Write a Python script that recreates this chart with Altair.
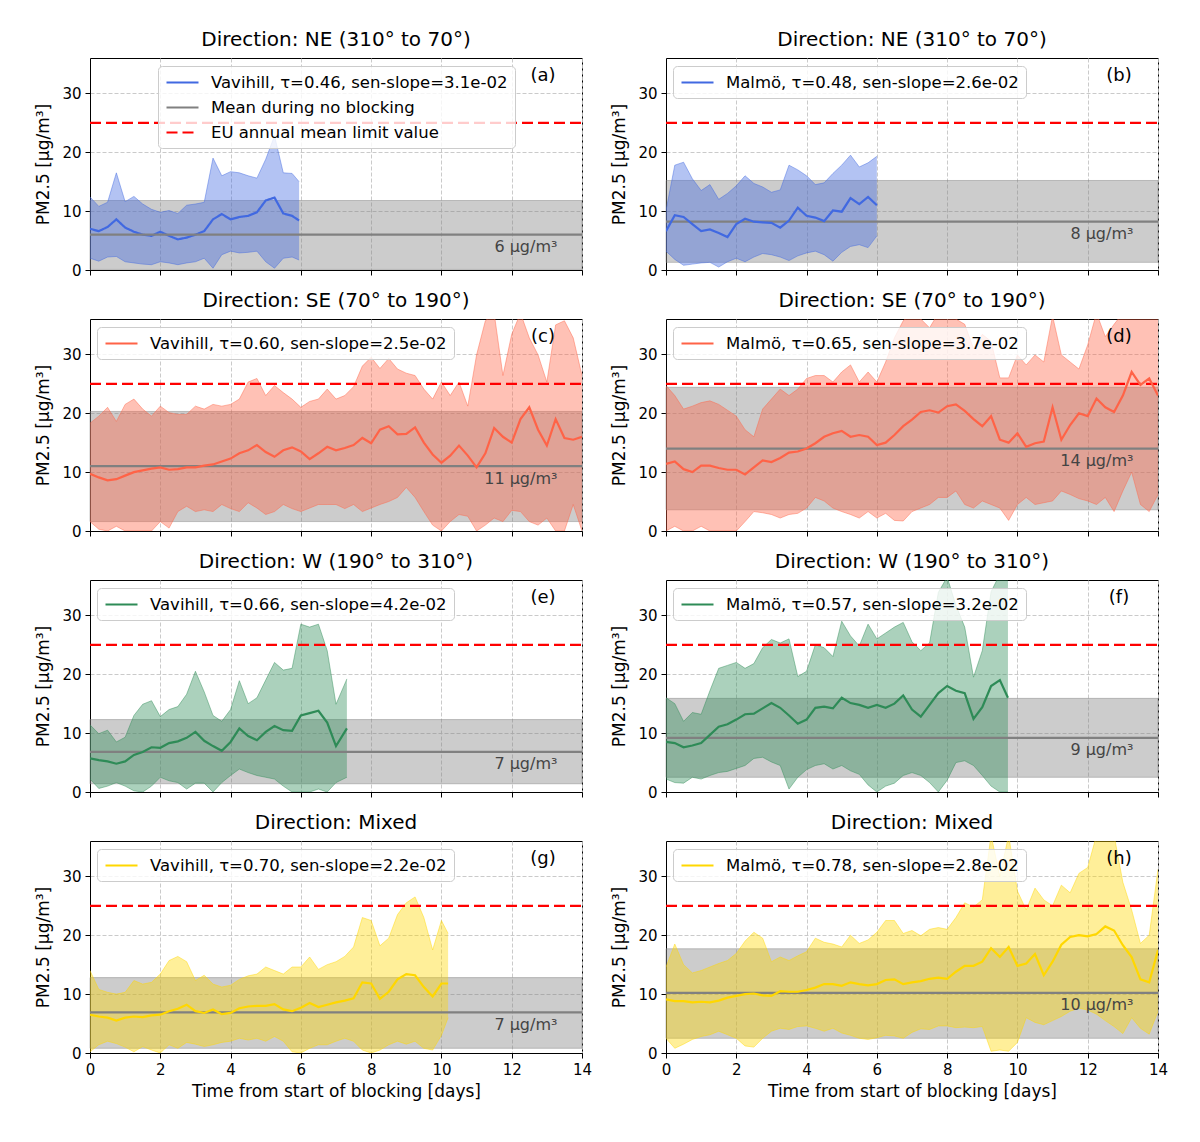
import altair as alt
import pandas as pd

# ---------------- data ----------------
STEP = 0.25  # days between sampled points

TITLES = ["Direction: NE (310° to 70°)", "Direction: NE (310° to 70°)",
          "Direction: SE (70° to 190°)", "Direction: SE (70° to 190°)",
          "Direction: W (190° to 310°)", "Direction: W (190° to 310°)",
          "Direction: Mixed", "Direction: Mixed"]
LETTERS = ["(a)", "(b)", "(c)", "(d)", "(e)", "(f)", "(g)", "(h)"]
COLORS = ["#4169E1", "#4169E1", "#FF6347", "#FF6347",
          "#2E8B57", "#2E8B57", "#FFD700", "#FFD700"]
LABELS = ["Vavihill, τ=0.46, sen-slope=3.1e-02", "Malmö, τ=0.48, sen-slope=2.6e-02",
          "Vavihill, τ=0.60, sen-slope=2.5e-02", "Malmö, τ=0.65, sen-slope=3.7e-02",
          "Vavihill, τ=0.66, sen-slope=4.2e-02", "Malmö, τ=0.57, sen-slope=3.2e-02",
          "Vavihill, τ=0.70, sen-slope=2.2e-02", "Malmö, τ=0.78, sen-slope=2.8e-02"]
END_DAY = [5.95, 6.0, 14.0, 14.0, 7.31, 9.73, 10.19, 14.0]

# no-blocking reference: mean, mean-std, mean+std
NB_MEAN = [6.0, 8.2, 11.0, 14.0, 6.8, 9.2, 6.9, 10.2]
NB_LO = [0.1, 1.3, 1.6, 3.6, 1.4, 2.5, 0.8, 2.5]
NB_HI = [11.8, 15.2, 20.3, 24.4, 12.3, 15.9, 12.8, 17.7]
NB_TEXT = ["6 µg/m³", "8 µg/m³", "11 µg/m³", "14 µg/m³",
           "7 µg/m³", "9 µg/m³", "7 µg/m³", "10 µg/m³"]
EU_LIMIT = 25

A_MEAN = [7.0, 6.6, 7.3, 8.6, 7.2, 6.5, 6.0, 5.8, 6.5, 5.8, 5.2, 5.5, 6.0, 6.6, 8.6, 9.5, 8.6, 9.0, 9.2, 9.8, 11.8, 12.3, 9.6, 9.2, 8.4]
A_UP = [12.4, 10.8, 11.5, 16.5, 11.6, 12.5, 11.2, 10.3, 9.8, 10.1, 9.6, 11.0, 11.2, 11.5, 19.0, 16.0, 16.7, 16.5, 16.0, 15.6, 18.8, 22.8, 16.5, 16.4, 15.0]
A_LO = [2.0, 1.5, 2.2, 2.3, 1.4, 1.2, 1.0, 0.9, 1.4, 1.2, 0.9, 1.2, 1.4, 2.0, 0.3, 2.6, 3.2, 2.9, 3.0, 3.2, 1.4, 0.3, 2.0, 2.2, 1.7]

B_MEAN = [6.6, 9.3, 9.0, 7.8, 6.6, 6.9, 6.3, 5.6, 7.8, 8.7, 8.2, 8.1, 8.0, 7.2, 8.4, 10.6, 9.2, 8.9, 8.3, 10.1, 9.9, 12.2, 11.2, 12.4, 11.0]
B_UP = [10.1, 17.8, 18.3, 15.5, 13.5, 14.5, 12.0, 13.0, 14.3, 16.0, 14.7, 14.1, 13.2, 13.6, 17.8, 17.0, 16.0, 14.5, 14.8, 16.4, 17.8, 19.5, 17.5, 18.2, 19.3]
B_LO = [3.2, 1.8, 0.8, 1.0, 1.2, 1.3, 0.5, 1.4, 2.0, 1.4, 2.2, 2.8, 2.6, 2.2, 1.6, 2.4, 2.9, 3.2, 2.6, 1.5, 3.0, 4.0, 4.3, 3.8, 5.8]

C_MEAN = [9.7, 9.1, 8.6, 8.8, 9.4, 10.0, 10.3, 10.6, 10.8, 10.4, 10.5, 10.8, 10.8, 11.1, 11.3, 11.8, 12.3, 13.2, 13.7, 14.6,
          13.4, 12.6, 13.7, 14.2, 13.5, 12.2, 13.2, 14.3, 13.7, 14.1, 14.6, 15.8, 14.9, 17.2, 17.8, 16.4, 16.5, 17.6, 15.0, 13.0,
          11.6, 12.8, 14.5, 12.8, 10.8, 13.2, 17.5, 16.0, 15.0, 19.0, 21.0, 17.2, 14.5, 19.0, 15.8, 15.5, 16.0]
C_UP = [18.3, 19.5, 21.0, 18.6, 21.5, 22.4, 20.7, 19.5, 21.2, 20.1, 19.8, 19.8, 21.2, 20.7, 21.5, 21.2, 21.5, 22.4, 25.3, 25.9,
        23.0, 24.7, 23.5, 22.4, 21.0, 22.0, 22.4, 24.1, 22.4, 23.0, 24.5, 28.0, 29.5, 27.6, 29.3, 27.5, 26.8, 26.4, 24.1, 22.4,
        25.3, 23.0, 25.3, 21.2, 29.9, 35.7, 37.0, 26.4, 33.4, 37.0, 32.8, 29.9, 25.3, 35.0, 35.7, 32.8, 26.4]
C_LO = [1.6, 0.3, 0.0, 0.8, 0.0, 0.0, 0.0, 0.0, 1.6, 0.5, 3.3, 4.2, 3.3, 3.6, 3.3, 4.5, 3.8, 3.3, 4.8, 3.9,
        2.8, 3.3, 4.5, 3.8, 3.3, 3.9, 4.5, 4.5, 4.5, 3.8, 4.5, 3.3, 3.9, 4.5, 5.0, 5.7, 7.4, 5.7, 3.3, 1.0,
        0.0, 1.6, 2.8, 2.5, 0.0, 1.0, 2.2, 1.6, 3.5, 3.3, 1.6, 1.0, 2.2, 0.0, 0.0, 4.5, 0.0]

D_MEAN = [11.4, 11.8, 10.5, 10.0, 11.1, 11.1, 10.7, 10.4, 10.4, 9.6, 10.8, 12.0, 11.7, 12.4, 13.3, 13.5, 14.0, 14.9, 16.0, 16.6,
          17.0, 16.0, 16.3, 16.0, 14.6, 15.0, 16.3, 17.8, 18.9, 20.2, 20.5, 20.1, 21.2, 21.5, 20.4, 19.0, 17.8, 19.5, 15.5, 15.0,
          16.6, 14.3, 14.9, 15.2, 21.0, 15.5, 18.0, 20.0, 19.5, 22.5, 21.0, 20.2, 23.0, 27.0, 24.8, 25.9, 23.0]
D_UP = [24.7, 23.0, 20.7, 21.2, 21.8, 22.1, 21.5, 20.5, 19.5, 17.2, 16.0, 20.7, 22.4, 24.1, 23.0, 24.1, 25.9, 26.4, 26.4, 25.3,
        27.0, 28.2, 25.3, 27.0, 25.3, 28.7, 32.8, 35.7, 37.0, 36.0, 34.5, 37.0, 37.0, 36.0, 35.1, 31.0, 33.4, 32.2, 26.0, 26.0,
        29.9, 28.2, 29.9, 28.7, 36.5, 29.9, 28.7, 27.5, 31.6, 37.0, 33.0, 35.1, 37.0, 37.0, 37.0, 37.0, 37.0]
D_LO = [0.0, 0.8, 0.0, 0.0, 0.8, 0.0, 0.0, 0.0, 0.0, 1.6, 3.3, 3.1, 2.8, 2.2, 2.8, 3.0, 3.9, 5.7, 5.1, 3.9,
        3.3, 2.8, 2.2, 3.3, 2.2, 3.0, 1.8, 1.7, 3.3, 3.9, 4.5, 5.7, 5.7, 6.8, 4.5, 3.9, 5.1, 4.5, 3.9, 1.8,
        4.5, 5.7, 4.5, 4.8, 5.1, 6.8, 6.2, 5.5, 5.1, 4.5, 5.7, 3.3, 6.8, 10.0, 4.5, 3.3, 6.2]

E_MEAN = [5.7, 5.4, 5.2, 4.8, 5.2, 6.3, 6.8, 7.6, 7.5, 8.3, 8.6, 9.2, 10.2, 8.7, 7.8, 7.0, 8.5, 10.8, 9.5, 8.8,
          10.2, 11.2, 10.5, 10.4, 13.0, 13.4, 13.8, 11.8, 7.8, 10.8]
E_UP = [11.4, 9.9, 10.5, 8.5, 9.3, 13.0, 14.9, 15.5, 12.8, 14.0, 14.5, 16.6, 20.5, 17.0, 13.0, 12.0, 14.0, 18.9, 15.0, 16.0,
        19.0, 22.0, 20.7, 21.0, 28.5, 28.0, 28.5, 24.0, 14.9, 19.2]
E_LO = [2.2, 0.6, 1.0, 1.6, 1.0, 0.2, 0.0, 1.0, 2.5, 1.9, 1.6, 0.5, 1.5, 1.5, 0.0, 1.6, 2.8, 3.9, 3.3, 2.8,
        2.5, 2.2, 1.0, 0.0, 0.0, 0.0, 0.5, 0.0, 1.6, 2.5]

F_MEAN = [8.5, 8.3, 7.6, 7.9, 8.3, 9.7, 11.1, 11.5, 12.3, 13.2, 13.3, 14.2, 15.1, 14.3, 13.0, 11.6, 12.3, 14.3, 14.5, 14.2,
          16.0, 15.1, 14.8, 14.3, 14.8, 14.3, 15.0, 16.4, 14.0, 12.8, 14.8, 16.8, 18.0, 17.2, 16.8, 12.4, 14.4, 18.0, 19.0, 16.0]
F_UP = [16.0, 15.0, 12.0, 13.5, 13.2, 17.2, 21.0, 21.5, 22.0, 21.0, 21.8, 24.5, 25.9, 25.3, 26.0, 19.6, 20.5, 25.0, 24.5, 23.0,
        29.0, 26.5, 24.8, 28.5, 26.0, 27.0, 28.0, 28.8, 25.5, 24.0, 25.3, 33.9, 36.5, 31.7, 28.0, 19.5, 24.0, 34.0, 37.0, 37.0]
F_LO = [2.2, 1.6, 1.5, 2.5, 2.2, 2.8, 3.3, 3.5, 4.0, 4.5, 5.7, 5.9, 5.1, 4.5, 0.5, 2.5, 3.8, 4.5, 4.8, 3.9,
        4.5, 3.6, 3.0, 1.2, 0.0, 1.0, 1.5, 2.8, 3.3, 2.8, 1.6, 0.0, 2.0, 5.0, 5.3, 4.5, 2.8, 1.0, 0.0, 0.0]

G_MEAN = [6.5, 6.2, 6.0, 5.5, 6.0, 6.2, 6.1, 6.4, 6.5, 7.1, 7.5, 8.2, 7.1, 6.8, 7.4, 6.6, 6.8, 7.6, 7.9, 8.0,
          8.0, 8.3, 7.4, 7.1, 7.7, 8.5, 7.8, 8.2, 8.6, 8.9, 9.3, 12.0, 11.8, 9.2, 10.4, 12.5, 13.4, 13.2, 11.2, 9.6,
          11.8, 11.8]
G_UP = [14.0, 10.8, 10.3, 10.0, 10.3, 12.3, 11.7, 12.0, 13.4, 15.7, 16.4, 15.5, 12.3, 13.2, 11.7, 11.2, 11.5, 12.5, 13.1, 13.4,
        14.6, 14.0, 13.4, 14.6, 14.6, 16.3, 14.2, 15.0, 15.5, 16.4, 18.0, 23.0, 22.5, 18.2, 19.5, 23.5, 25.5, 26.5, 23.0, 17.5,
        22.5, 20.3]
G_LO = [0.2, 1.4, 2.0, 1.6, 1.0, 0.2, 1.1, 0.5, 0.0, 1.4, 0.8, 1.8, 1.5, 1.1, 1.4, 1.8, 2.0, 2.5, 2.2, 2.5,
        2.0, 2.8, 2.0, 0.2, 0.0, 0.8, 1.4, 1.4, 2.0, 2.5, 2.0, 0.5, 0.0, 0.5, 1.4, 2.0, 1.5, 2.0, 0.8, 0.5,
        3.0, 6.0]

H_MEAN = [9.1, 8.8, 8.8, 8.6, 8.7, 8.6, 8.9, 9.4, 9.7, 10.0, 10.1, 9.8, 9.7, 10.5, 10.4, 10.4, 10.7, 11.1, 11.7, 11.7,
          11.4, 12.0, 11.7, 11.5, 11.7, 12.4, 12.5, 11.7, 12.0, 12.2, 12.6, 12.8, 12.6, 13.8, 14.8, 14.8, 15.5, 17.8, 16.3, 18.0,
          14.8, 15.2, 16.8, 13.2, 15.5, 18.4, 19.7, 20.0, 19.8, 20.2, 21.5, 20.8, 18.3, 16.3, 12.5, 12.0, 17.5]
H_UP = [14.6, 18.5, 15.0, 13.6, 14.0, 14.6, 15.2, 15.7, 16.9, 19.0, 20.5, 19.5, 15.5, 16.3, 15.7, 16.5, 17.2, 19.5, 18.8, 18.5,
        18.0, 20.0, 18.6, 19.2, 20.5, 22.5, 22.5, 20.3, 20.8, 19.9, 21.0, 21.3, 21.0, 23.0, 25.5, 24.8, 26.0, 37.0, 30.0, 37.0,
        27.5, 24.3, 28.0, 26.0, 25.0, 28.5, 27.2, 30.5, 31.5, 37.0, 37.0, 37.0, 29.0, 24.3, 18.6, 20.0, 31.2]
H_LO = [2.5, 0.8, 1.5, 2.3, 2.8, 3.1, 3.7, 3.1, 2.5, 1.2, 1.0, 2.5, 3.7, 4.2, 4.0, 4.5, 4.6, 4.2, 3.7, 4.2,
        3.4, 3.0, 2.5, 2.3, 2.6, 3.0, 2.9, 2.5, 3.5, 4.1, 4.0, 4.6, 4.6, 4.3, 4.4, 4.3, 4.5, 0.3, 0.5, 0.3,
        1.8, 6.0, 5.2, 4.8, 5.5, 6.2, 7.1, 7.6, 7.3, 6.6, 5.5, 4.5, 3.3, 6.0, 4.2, 3.2, 7.1]

SERIES = [(A_MEAN, A_LO, A_UP), (B_MEAN, B_LO, B_UP), (C_MEAN, C_LO, C_UP), (D_MEAN, D_LO, D_UP),
          (E_MEAN, E_LO, E_UP), (F_MEAN, F_LO, F_UP), (G_MEAN, G_LO, G_UP), (H_MEAN, H_LO, H_UP)]

X_TICKS = [0, 2, 4, 6, 8, 10, 12, 14]
Y_TICKS = [0, 10, 20, 30]
MEAN_LABEL = "Mean during no blocking"
EU_LABEL = "EU annual mean limit value"

FONT = "DejaVu Sans"
W, H = 492, 212

XSCALE = alt.Scale(domain=[0, 14], nice=False, zero=False)
YSCALE = alt.Scale(domain=[0, 36], nice=False, zero=False)


def make_panel(i):
    mean, lo, up = SERIES[i]
    n = len(mean)
    t = [STEP * k for k in range(n)]
    t[-1] = END_DAY[i]
    df = pd.DataFrame({"t": t, "m": mean, "lo": lo, "hi": up})
    color = COLORS[i]
    bottom = i >= 6

    if bottom:
        xaxis = alt.Axis(values=X_TICKS, title="Time from start of blocking [days]", format="d")
    else:
        xaxis = alt.Axis(values=X_TICKS, labels=False, title=None)
    yaxis = alt.Axis(values=Y_TICKS, title="PM2.5 [µg/m³]", format="d")

    def X(f):
        return alt.X(f + ":Q", scale=XSCALE, axis=xaxis)

    def Y(f):
        return alt.Y(f + ":Q", scale=YSCALE, axis=yaxis)

    band_df = pd.DataFrame({"x0": [0], "x1": [14], "b0": [NB_LO[i]], "b1": [NB_HI[i]]})
    band = alt.Chart(band_df).mark_rect(
        fill="#808080", fillOpacity=0.4, stroke="#808080", strokeOpacity=0.45, strokeWidth=1
    ).encode(x=X("x0"), x2=alt.X2("x1"), y=Y("b0"), y2=alt.Y2("b1"))

    area = alt.Chart(df).mark_area(color=color, fillOpacity=0.4, clip=True).encode(
        x=X("t"), y=Y("lo"), y2=alt.Y2("hi"))
    edge_lo = alt.Chart(df).mark_line(color=color, strokeWidth=1, opacity=0.45, clip=True).encode(
        x=X("t"), y=Y("lo"))
    edge_hi = alt.Chart(df).mark_line(color=color, strokeWidth=1, opacity=0.45, clip=True).encode(
        x=X("t"), y=Y("hi"))

    leg_x = 68 if i == 0 else 7
    legend = alt.Legend(orient="none", legendX=leg_x, legendY=8, title=None)

    rows = [{"t": a, "v": b, "lab": LABELS[i]} for a, b in zip(t, mean)]
    layers = [band, area, edge_lo, edge_hi]
    if i == 0:
        rows += [{"t": 0, "v": NB_MEAN[i], "lab": MEAN_LABEL}, {"t": 14, "v": NB_MEAN[i], "lab": MEAN_LABEL},
                 {"t": 0, "v": EU_LIMIT, "lab": EU_LABEL}, {"t": 14, "v": EU_LIMIT, "lab": EU_LABEL}]
        dom = [LABELS[i], MEAN_LABEL, EU_LABEL]
        rng = [color, "#808080", "#ff0000"]
        dashes = [[1, 0], [1, 0], [11, 5]]
        lines = alt.Chart(pd.DataFrame(rows)).mark_line(strokeWidth=2.2, clip=True).encode(
            x=X("t"), y=Y("v"),
            color=alt.Color("lab:N", scale=alt.Scale(domain=dom, range=rng), legend=legend),
            strokeDash=alt.StrokeDash("lab:N", scale=alt.Scale(domain=dom, range=dashes), legend=legend),
        )
        layers.append(lines)
    else:
        mean_df = pd.DataFrame({"t": [0, 14], "v": [NB_MEAN[i], NB_MEAN[i]]})
        eu_df = pd.DataFrame({"t": [0, 14], "v": [EU_LIMIT, EU_LIMIT]})
        mline = alt.Chart(mean_df).mark_line(color="#808080", strokeWidth=2.2).encode(x=X("t"), y=Y("v"))
        eline = alt.Chart(eu_df).mark_line(color="#ff0000", strokeWidth=2.2, strokeDash=[11, 5]).encode(
            x=X("t"), y=Y("v"))
        lines = alt.Chart(pd.DataFrame(rows)).mark_line(strokeWidth=2.2, clip=True).encode(
            x=X("t"), y=Y("v"),
            color=alt.Color("lab:N", scale=alt.Scale(domain=[LABELS[i]], range=[color]), legend=legend),
        )
        layers += [mline, eline, lines]

    ann_df = pd.DataFrame({"x": [13.3], "y": [NB_MEAN[i] - 2.1], "s": [NB_TEXT[i]]})
    ann = alt.Chart(ann_df).mark_text(align="right", baseline="middle", fontSize=16, font=FONT,
                                      color="#444444").encode(x=X("x"), y=Y("y"), text="s:N")
    let_df = pd.DataFrame({"s": [LETTERS[i]]})
    letter = alt.Chart(let_df).mark_text(align="center", baseline="middle", fontSize=18, font=FONT,
                                         color="black").encode(x=alt.value(453), y=alt.value(18), text="s:N")
    layers += [ann, letter]

    return alt.layer(*layers).properties(width=W, height=H, title=TITLES[i])


panels = [make_panel(i) for i in range(8)]

chart = alt.concat(*panels, columns=2, spacing={"row": 11, "column": 17}, align="each").resolve_scale(
    color="independent", strokeDash="independent"
).properties(
    padding={"left": 26, "top": 21, "right": 5, "bottom": 5}
).configure(font=FONT).configure_view(
    stroke="black", strokeWidth=1
).configure_axis(
    labelFont=FONT, labelFontSize=15, labelColor="black",
    titleFont=FONT, titleFontSize=17, titleFontWeight="normal", titleColor="black",
    tickColor="black", tickSize=5, tickWidth=1, domainColor="black", domainWidth=1,
    gridColor="#c4c4c4", gridDash=[4, 2], gridWidth=0.9, labelPadding=4,
).configure_axisX(titlePadding=6, labelFlush=False).configure_axisY(titlePadding=9).configure_title(
    font=FONT, fontSize=20, fontWeight="normal", color="black", offset=8
).configure_legend(
    labelFont=FONT, labelFontSize=16.5, labelColor="black", labelLimit=600,
    symbolType="M-1,0H3", symbolSize=256, symbolStrokeWidth=2.2, labelOffset=27,
    padding=7, rowPadding=7, fillColor="rgba(255,255,255,0.8)", strokeColor="#cccccc",
    cornerRadius=4,
)

chart.save("out.html", embed_options={"renderer": "svg", "actions": False})
